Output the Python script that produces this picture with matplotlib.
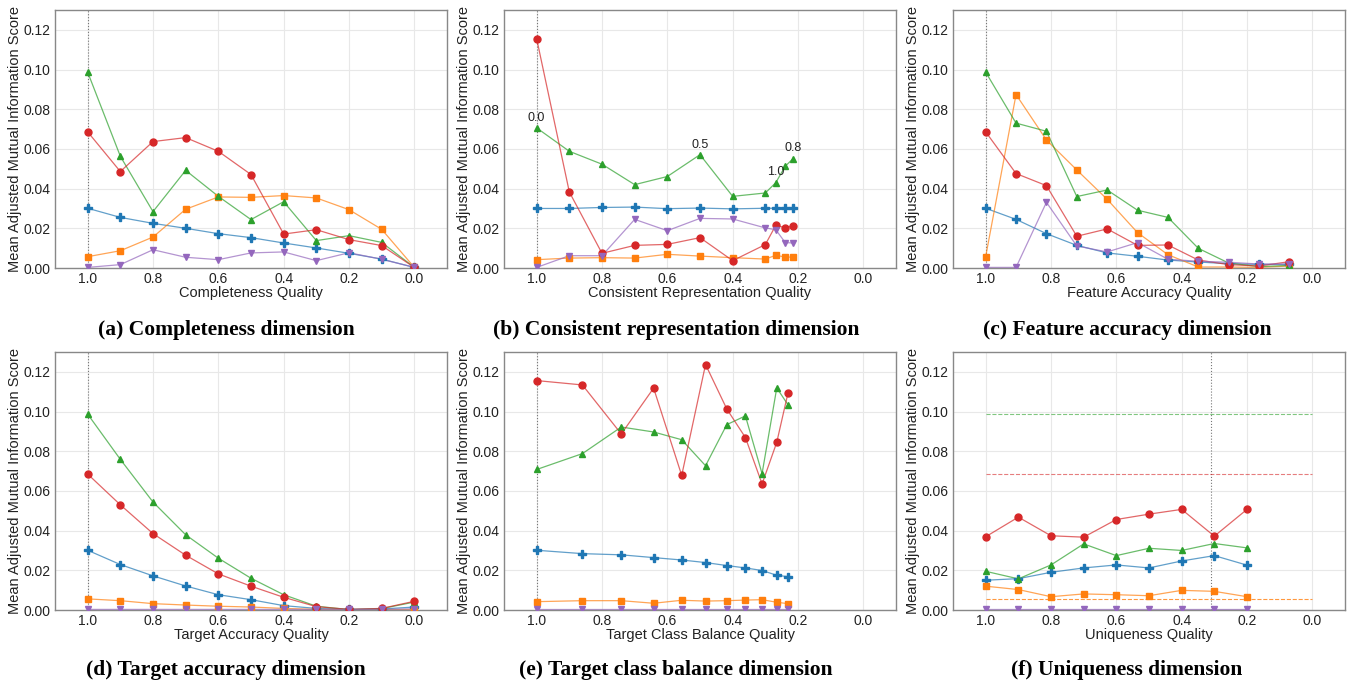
import numpy as np
import matplotlib
matplotlib.use("Agg")
import matplotlib.pyplot as plt

plt.rcParams['font.family'] = ['Liberation Sans', 'DejaVu Sans']

# ---------------------------------------------------------------------------
# data
# series order: blue (P), orange (s), green (^), red (o), purple (v)
# ---------------------------------------------------------------------------

x_a = [1.0, 0.9, 0.8, 0.7, 0.6, 0.5, 0.4, 0.3, 0.2, 0.1, 0.0]
a_blue = [0.0301, 0.0255, 0.0225, 0.0200, 0.0173, 0.0153, 0.0126, 0.0101, 0.0074, 0.0045, 0.0003]
a_orange = [0.0057, 0.0087, 0.0156, 0.0296, 0.0358, 0.0356, 0.0365, 0.0353, 0.0294, 0.0195, 0.0003]
a_green = [0.0987, 0.0563, 0.0284, 0.0492, 0.0361, 0.0244, 0.0334, 0.0138, 0.0163, 0.0129, 0.0003]
a_red = [0.0686, 0.0486, 0.0637, 0.0657, 0.0588, 0.0471, 0.0171, 0.0193, 0.0143, 0.0113, 0.0003]
a_purple = [0.0003, 0.0017, 0.0092, 0.0054, 0.0042, 0.0076, 0.0081, 0.0037, 0.0077, 0.0044, 0.0003]

x_b = [1.0, 0.9, 0.8, 0.7, 0.6, 0.5, 0.4, 0.3, 0.268, 0.239, 0.215]
b_blue = [0.0300, 0.0300, 0.0305, 0.0307, 0.0299, 0.0302, 0.0298, 0.0301, 0.0301, 0.0300, 0.0300]
b_orange = [0.0042, 0.0050, 0.0052, 0.0050, 0.0069, 0.0060, 0.0052, 0.0045, 0.0064, 0.0055, 0.0055]
b_green = [0.0706, 0.0588, 0.0523, 0.0420, 0.0461, 0.0571, 0.0361, 0.0378, 0.0430, 0.0513, 0.0551]
b_red = [0.1155, 0.0383, 0.0074, 0.0114, 0.0119, 0.0153, 0.0037, 0.0118, 0.0215, 0.0203, 0.0212]
b_purple = [0.0003, 0.0062, 0.0062, 0.0245, 0.0188, 0.0250, 0.0247, 0.0202, 0.0193, 0.0128, 0.0126]
# labels written above some green points: (index, text)
b_notes = [(0, "0.0"), (5, "0.5"), (8, "1.0"), (10, "0.8")]

x_c = [1.0, 0.907, 0.814, 0.721, 0.628, 0.535, 0.442, 0.349, 0.256, 0.163, 0.07]
c_blue = [0.0301, 0.0245, 0.0173, 0.0114, 0.0076, 0.0059, 0.0040, 0.0030, 0.0022, 0.0018, 0.0018]
c_orange = [0.0057, 0.0874, 0.0645, 0.0494, 0.0346, 0.0178, 0.0067, 0.0005, 0.0005, 0.0003, 0.0010]
c_green = [0.0987, 0.0730, 0.0689, 0.0360, 0.0393, 0.0291, 0.0255, 0.0099, 0.0025, 0.0007, 0.0013]
c_red = [0.0686, 0.0476, 0.0415, 0.0160, 0.0197, 0.0114, 0.0116, 0.0040, 0.0017, 0.0010, 0.0032]
c_purple = [0.0003, 0.0003, 0.0331, 0.0111, 0.0081, 0.0128, 0.0044, 0.0034, 0.0029, 0.0020, 0.0020]

x_d = [1.0, 0.9, 0.8, 0.7, 0.6, 0.5, 0.4, 0.3, 0.2, 0.1, 0.0]
d_blue = [0.0301, 0.0229, 0.0172, 0.0121, 0.0077, 0.0052, 0.0022, 0.0008, 0.0003, 0.0005, 0.0015]
d_orange = [0.0056, 0.0047, 0.0032, 0.0025, 0.0019, 0.0015, 0.0008, 0.0003, 0.0002, 0.0002, 0.0002]
d_green = [0.0987, 0.0759, 0.0544, 0.0379, 0.0261, 0.0160, 0.0077, 0.0019, 0.0002, 0.0007, 0.0040]
d_red = [0.0685, 0.0530, 0.0385, 0.0276, 0.0182, 0.0120, 0.0064, 0.0017, 0.0003, 0.0008, 0.0044]
d_purple = [0.0003, 0.0003, 0.0003, 0.0003, 0.0003, 0.0003, 0.0003, 0.0003, 0.0003, 0.0003, 0.0006]

x_e = [1.0, 0.860, 0.741, 0.642, 0.556, 0.483, 0.418, 0.361, 0.310, 0.265, 0.231]
e_blue = [0.0301, 0.0284, 0.0278, 0.0264, 0.0252, 0.0239, 0.0224, 0.0212, 0.0199, 0.0175, 0.0168]
e_orange = [0.0042, 0.0047, 0.0047, 0.0034, 0.0049, 0.0045, 0.0047, 0.0050, 0.0052, 0.0039, 0.0032]
e_green = [0.0708, 0.0788, 0.0922, 0.0897, 0.0858, 0.0727, 0.0934, 0.0978, 0.0687, 0.1119, 0.1035]
e_red = [0.1156, 0.1134, 0.0887, 0.1118, 0.0678, 0.1237, 0.1013, 0.0869, 0.0635, 0.0845, 0.1091]
e_purple = [0.0003] * 11

x_f = [1.0, 0.9, 0.8, 0.7, 0.6, 0.5, 0.4, 0.3, 0.2]
f_blue = [0.0150, 0.0158, 0.0190, 0.0212, 0.0227, 0.0212, 0.0247, 0.0274, 0.0226]
f_orange = [0.0120, 0.0103, 0.0067, 0.0081, 0.0077, 0.0072, 0.0099, 0.0094, 0.0067]
f_green = [0.0195, 0.0157, 0.0227, 0.0333, 0.0274, 0.0311, 0.0300, 0.0335, 0.0313]
f_red = [0.0369, 0.0468, 0.0374, 0.0367, 0.0456, 0.0483, 0.0507, 0.0372, 0.0507]
f_purple = [0.0003] * 9
# dashed reference levels in (f)
f_base_green = 0.0987
f_base_red = 0.0687
f_base_orange = 0.0056

vline_pos = [1.0, 1.0, 1.0, 1.0, 1.0, 0.31]

xlabels = ["Completeness Quality", "Consistent Representation Quality",
           "Feature Accuracy Quality", "Target Accuracy Quality",
           "Target Class Balance Quality", "Uniqueness Quality"]
captions = ["(a) Completeness dimension", "(b) Consistent representation dimension",
            "(c) Feature accuracy dimension", "(d) Target accuracy dimension",
            "(e) Target class balance dimension", "(f) Uniqueness dimension"]

panels = [
    (x_a, [a_blue, a_orange, a_green, a_red, a_purple]),
    (x_b, [b_blue, b_orange, b_green, b_red, b_purple]),
    (x_c, [c_blue, c_orange, c_green, c_red, c_purple]),
    (x_d, [d_blue, d_orange, d_green, d_red, d_purple]),
    (x_e, [e_blue, e_orange, e_green, e_red, e_purple]),
    (x_f, [f_blue, f_orange, f_green, f_red, f_purple]),
]

colours = ["#1f77b4", "#ff7f0e", "#2ca02c", "#d62728", "#9467bd"]
markers = ["P", "s", "^", "o", "v"]

# ---------------------------------------------------------------------------
# figure
# ---------------------------------------------------------------------------

W, H = 1352, 689
fig = plt.figure(figsize=(W / 100, H / 100), dpi=100)

lefts = [55, 504, 953]
tops = [10, 352]
aw, ah = 392, 258

for i, (xs, series) in enumerate(panels):
    r, c = divmod(i, 3)
    ax = fig.add_axes([lefts[c] / W, 1 - (tops[r] + ah) / H, aw / W, ah / H])

    ax.set_axisbelow(True)
    ax.grid(True, color="#e8e8e8", linewidth=0.8)
    for s in ax.spines.values():
        s.set_color("#888888")
        s.set_linewidth(1.0)
    ax.tick_params(length=0, labelsize=10, colors="#222222", pad=3)

    ax.axvline(vline_pos[i], color="#777777", linestyle=":", linewidth=0.8, zorder=1)

    for ys, col, m in zip(series, colours, markers):
        ax.plot(xs, ys, color=col, linewidth=0.9, alpha=0.7, zorder=2)
        ax.plot(xs, ys, linestyle="none", marker=m, color=col,
                markersize=5.5 if m == "P" else 5, zorder=3)

    if i == 1:
        for idx, txt in b_notes:
            ax.annotate(txt, (xs[idx], series[2][idx]), textcoords="offset points",
                        xytext=(0, 3), ha="center", va="bottom", fontsize=9,
                        color="#222222")
    if i == 5:
        ax.hlines([f_base_green], 1.0, 0.0, colors=colours[2], linestyles="--",
                  linewidth=0.8, alpha=0.6)
        ax.hlines([f_base_red], 1.0, 0.0, colors=colours[3], linestyles="--",
                  linewidth=0.8, alpha=0.6)
        ax.hlines([f_base_orange], 1.0, 0.0, colors=colours[1], linestyles="--",
                  linewidth=0.8, alpha=0.8)

    ax.set_xlim(1.1, -0.1)
    ax.set_ylim(0, 0.13)
    ax.set_xticks([1.0, 0.8, 0.6, 0.4, 0.2, 0.0])
    ax.set_yticks([0.0, 0.02, 0.04, 0.06, 0.08, 0.10, 0.12])
    ax.set_yticklabels([f"{v:.2f}" for v in ax.get_yticks()])
    ax.set_xlabel(xlabels[i], fontsize=10.5, labelpad=0, color="#222222")
    ax.set_ylabel("Mean Adjusted Mutual Information Score", fontsize=10.5,
                  labelpad=1, color="#222222")

cap_x = [226, 676, 1127]
cap_y = [330, 670]
for i, txt in enumerate(captions):
    r, c = divmod(i, 3)
    fig.text(cap_x[c] / W, 1 - cap_y[r] / H, txt, ha="center", va="center",
             fontsize=15.5, fontweight="bold", family="Liberation Serif")

fig.savefig("out.png", dpi=100)
